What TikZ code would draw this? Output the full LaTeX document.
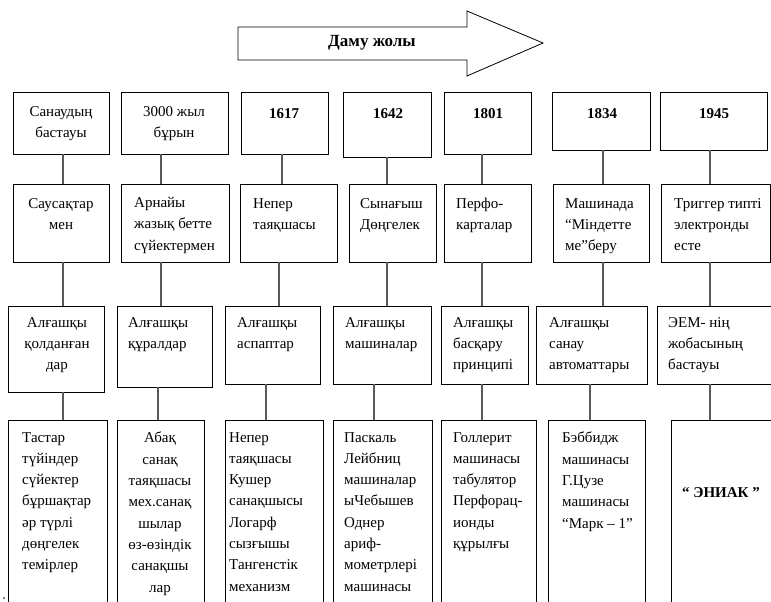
\documentclass[tikz,border=0pt]{standalone}
\usepackage{fontspec}
\setmainfont{Liberation Serif}
\newcommand\fs{\fontsize{15}{21.3}\selectfont}
\newcommand\bx[5]{\node[bx, minimum width={(#4-#2)*1pt}, minimum height={(#5-#3)*1pt}] (#1) at ({(#2+#4)/2},{-(#3+#5)/2}) {};}
\tikzset{
  bx/.style={draw=black, line width=0.8pt, inner sep=0pt, outer sep=0pt, fill=none},
  conn/.style={draw=black!65, line width=1.3pt},
  tl/.style={anchor=north west, align=left, inner sep=0pt, font=\fs, execute at begin node=\strut},
  tc/.style={anchor=north, align=center, inner sep=0pt, font=\fs, execute at begin node=\strut},
  yr/.style={anchor=base, inner sep=0pt, font=\fs\bfseries},
  arrowbody/.style={draw=black, line width=0.8pt, fill=white}
}
\begin{document}
\begin{tikzpicture}[x=1pt,y=1pt]
\clip (0,0) rectangle (771,-602);
\fill[white] (0,0) rectangle (771,-602);

% arrow
\draw[arrowbody] (238,-27) -- (467,-27) -- (467,-11) -- (543,-43) -- (467,-76) -- (467,-60) -- (238,-60) -- cycle;
\node[inner sep=0pt, font=\fontsize{17}{20}\selectfont\bfseries] (arrowtxt) at (372,-43) {Даму жолы};

% row 1
\bx{r1a}{13}{92}{109}{154}
\bx{r1b}{121}{92}{228}{154}
\bx{r1c}{241}{92}{328}{154}
\bx{r1d}{343}{92}{431}{157}
\bx{r1e}{444}{92}{531}{154}
\bx{r1f}{552}{92}{650}{150}
\bx{r1g}{660}{92}{767}{150}
% row 2
\bx{r2a}{13}{184}{109}{262}
\bx{r2b}{121}{184}{229}{262}
\bx{r2c}{240}{184}{337}{262}
\bx{r2d}{349}{184}{436}{262}
\bx{r2e}{444}{184}{531}{262}
\bx{r2f}{553}{184}{649}{262}
\bx{r2g}{661}{184}{770}{262}
% row 3
\bx{r3a}{8}{306}{104}{392}
\bx{r3b}{117}{306}{212}{387}
\bx{r3c}{225}{306}{320}{384}
\bx{r3d}{333}{306}{431}{384}
\bx{r3e}{441}{306}{528}{384}
\bx{r3f}{536}{306}{647}{384}
\bx{r3g}{657}{306}{775}{384}
% row 4
\bx{r4a}{8}{420}{107}{615}
\bx{r4b}{117}{420}{204}{615}
\bx{r4c}{225}{420}{323}{615}
\bx{r4d}{333}{420}{432}{615}
\bx{r4e}{441}{420}{536}{615}
\bx{r4f}{548}{420}{645}{615}
\bx{r4g}{671}{420}{780}{615}

% connector columns
\coordinate (k1a) at (63,0);  \coordinate (k1b) at (161,0); \coordinate (k1c) at (282,0);
\coordinate (k1d) at (387,0); \coordinate (k1e) at (482,0); \coordinate (k1f) at (603,0);
\coordinate (k1g) at (710,0);
\coordinate (k2a) at (63,0);  \coordinate (k2b) at (161,0); \coordinate (k2c) at (279,0);
\coordinate (k2d) at (387,0); \coordinate (k2e) at (482,0); \coordinate (k2f) at (603,0);
\coordinate (k2g) at (710,0);
\coordinate (k3a) at (63,0);  \coordinate (k3b) at (158,0); \coordinate (k3c) at (266,0);
\coordinate (k3d) at (374,0); \coordinate (k3e) at (482,0); \coordinate (k3f) at (590,0);
\coordinate (k3g) at (710,0);

\foreach \c in {a,b,c,d,e,f,g}{
  \draw[conn] (r1\c.south -| k1\c) -- (r2\c.north -| k1\c);
  \draw[conn] (r2\c.south -| k2\c) -- (r3\c.north -| k2\c);
  \draw[conn] (r3\c.south -| k3\c) -- (r4\c.north -| k3\c);
}

% row 1 text
\node[tc] (t1a) at (61,-106) {Санаудың\\бастауы};
\node[tc] (t1b) at (174,-106) {3000 жыл\\бұрын};
\node[yr] (t1c) at (284,-118) {1617};
\node[yr] (t1d) at (388,-118) {1642};
\node[yr] (t1e) at (488,-118) {1801};
\node[yr] (t1f) at (602,-118) {1834};
\node[yr] (t1g) at (714,-118) {1945};

% row 2 text
\node[tc] (t2a) at (61,-198) {Саусақтар\\мен};
\node[tl] (t2b) at (134,-197) {Арнайы\\жазық бетте\\сүйектермен};
\node[tl] (t2c) at (253,-198) {Непер\\таяқшасы};
\node[tl] (t2d) at (360,-198) {Сынағыш\\Дөңгелек};
\node[tl] (t2e) at (456,-198) {Перфо-\\карталар};
\node[tl] (t2f) at (565,-198) {Машинада\\“Міндетте\\ме”беру};
\node[tl] (t2g) at (674,-198) {Триггер типті\\электронды\\есте};

% row 3 text
\node[tc] (t3a) at (57,-317) {Алғашқы\\қолданған\\дар};
\node[tl] (t3b) at (128,-317) {Алғашқы\\құралдар};
\node[tl] (t3c) at (237,-317) {Алғашқы\\аспаптар};
\node[tl] (t3d) at (345,-317) {Алғашқы\\машиналар};
\node[tl] (t3e) at (453,-317) {Алғашқы\\басқару\\принципі};
\node[tl] (t3f) at (549,-317) {Алғашқы\\санау\\автоматтары};
\node[tl] (t3g) at (668,-317) {ЭЕМ- нің\\жобасының\\бастауы};

% row 4 text
\node[tl] (t4a) at (22,-432) {Тастар\\түйіндер\\сүйектер\\бұршақтар\\әр түрлі\\дөңгелек\\темірлер};
\node[tc] (t4b) at (160,-432) {Абақ\\санақ\\таяқшасы\\мех.санақ\\шылар\\өз-өзіндік\\санақшы\\лар};
\node[tl] (t4c) at (229,-432) {Непер\\таяқшасы\\Кушер\\санақшысы\\Логарф\\сызғышы\\Тангенстік\\механизм};
\node[tl] (t4d) at (344,-432) {Паскаль\\Лейбниц\\машиналар\\ыЧебышев\\Однер\\ариф-\\мометрлері\\машинасы};
\node[tl] (t4e) at (453,-432) {Голлерит\\машинасы\\табулятор\\Перфорац-\\ионды\\құрылғы};
\node[tl] (t4f) at (562,-432) {Бэббидж\\машинасы\\Г.Цузе\\машинасы\\“Марк – 1”};
\node[yr] (t4g) at (721,-497) {“ ЭНИАК ”};

% small dot bottom-left
\fill (4,-598) circle (0.9);
\end{tikzpicture}
\end{document}
